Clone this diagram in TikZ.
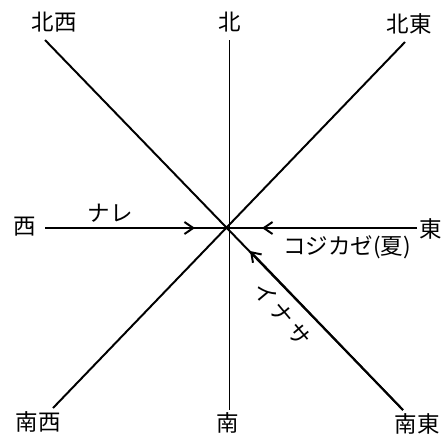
\documentclass[tikz,border=0pt]{standalone}
\usepackage{fontspec}
\newfontfamily\jpfont{Noto Sans CJK JP}
\usetikzlibrary{arrows.meta}

\begin{document}
\begin{tikzpicture}[x=0.025cm, y=-0.025cm,
    lbl/.style={font=\jpfont\fontsize{16}{16}\selectfont, inner sep=0pt},
    ray/.style={line width=1.4pt},
    axis/.style={line width=0.7pt},
    arr/.style={-{Straight Barb[length=2.2mm,width=3mm]}, line width=1.4pt}
]
\useasboundingbox (0,0) rectangle (444,437);
\coordinate (c)  at (228,228);
\coordinate (nw) at (45,40);
\coordinate (ne) at (405,42);
\coordinate (sw) at (53,408);
\coordinate (se) at (403,410);
\coordinate (n)  at (229,40);
\coordinate (s)  at (229,410);
\coordinate (w)  at (45,228);
\coordinate (e)  at (417,228);
\coordinate (wtip)  at (195,228);
\coordinate (etip)  at (262,228);
\coordinate (setip) at (250,251);

\node[lbl] (lnw) at (54,22)  {北西};
\node[lbl] (ln)  at (230,22) {北};
\node[lbl] (lne) at (409,24) {北東};
\node[lbl] (lw)  at (25,227) {西};
\node[lbl] (le)  at (431,229) {東};
\node[lbl] (lsw) at (38,422) {南西};
\node[lbl] (ls)  at (228,423) {南};
\node[lbl] (lse) at (417,424) {南東};
\node[lbl] (nare)     at (110,213) {ナレ};
\node[lbl] (kojikaze) at (347,247) {コジカゼ(夏)};
\node[lbl, rotate=-50] (inasa) at (282,314) {イ\hspace{3pt}ナ\hspace{3pt}サ};

\draw[axis] (n) -- (s);
\draw[ray] (nw) -- (se);
\draw[ray] (ne) -- (sw);
\draw[ray] (w) -- (c) -- (e);
\draw[arr] (w) -- (wtip);
\draw[arr] (e) -- (etip);
\draw[arr] (se) -- (setip);
\end{tikzpicture}
\end{document}
